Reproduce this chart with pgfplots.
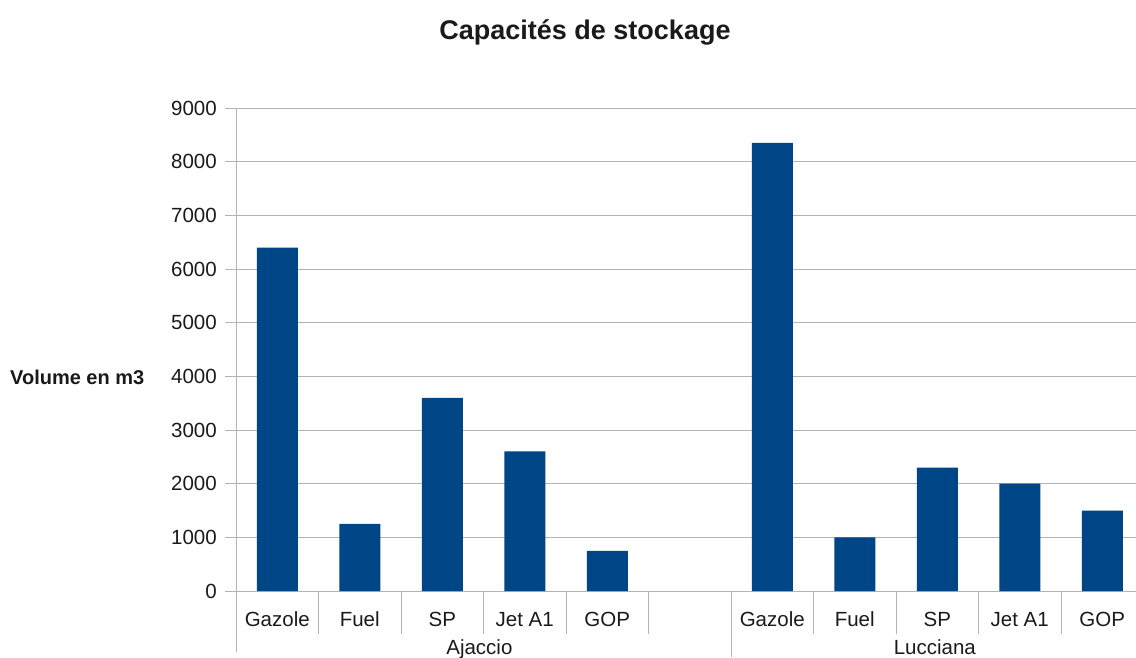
\documentclass[border=0pt]{standalone}
\usepackage{pgfplots}
\pgfplotsset{compat=1.18}
\usepackage{pgfplotstable}
\usepackage{fontspec}
\setmainfont{Liberation Sans}

\definecolor{barblue}{HTML}{004586}
\definecolor{gridgray}{HTML}{B3B3B3}
\definecolor{txt}{HTML}{1A1A1A}

% storage capacity (m3); slots 0-4 Ajaccio, slot 5 empty, slots 6-10 Lucciana
\pgfplotstableread{
x value
0 6400
1 1250
2 3600
3 2600
4 750
6 8350
7 1000
8 2300
9 2000
10 1500
}\stock

\begin{document}
\begin{tikzpicture}
\path[use as bounding box] (0pt,0pt) rectangle (1136pt,657pt);

\node[anchor=base, font=\fontsize{27}{31}\selectfont\bfseries, text=txt] at (585pt,617pt) {Capacités de stockage};
\node[anchor=base west, font=\fontsize{20}{24}\selectfont\bfseries, text=txt, inner sep=0pt] at (10pt,272pt) {Volume en m3};

\begin{axis}[
  at={(236pt,66pt)}, anchor=south west,
  scale only axis, width=900pt, height=483pt,
  xmin=-0.5, xmax=10.409, ymin=0, ymax=9000,
  clip=false,
  axis lines*=left,
  axis line style={gridgray, line width=1pt},
  ymajorgrids, grid style={gridgray, line width=1pt},
  ytick={0,1000,...,9000},
  scaled y ticks=false,
  /pgf/number format/1000 sep={},
  /pgf/number format/assume math mode=true,
  tick align=outside,
  major tick length=11pt,
  ytick style={gridgray, line width=1pt},
  yticklabel style={font=\fontsize{20.5}{24}\selectfont, text=txt, anchor=east, inner sep=0pt, xshift=-8pt},
  xtick={0,1,2,3,4,6,7,8,9,10},
  xticklabels={Gazole,Fuel,SP,Jet A1,GOP,Gazole,Fuel,SP,Jet A1,GOP},
  xtick style={draw=none},
  xticklabel style={font=\fontsize{20.5}{24}\selectfont, text=txt, anchor=base, inner sep=0pt, yshift=-24pt},
]
\addplot[ybar, bar width=41pt, fill=barblue, draw=none] table[x=x, y=value] {\stock};

% category separators below the axis
\pgfplotsinvokeforeach{0.5,1.5,2.5,3.5,4.5,6.5,7.5,8.5,9.5}{
  \draw[gridgray, line width=1pt] (axis cs:#1,0) -- ++(0pt,-43pt);
}
% group separators
\draw[gridgray, line width=1pt] (axis cs:-0.5,0) -- ++(0pt,-61pt);
\draw[gridgray, line width=1pt] (axis cs:5.5,0) -- ++(0pt,-66pt);

% group labels
\node[anchor=base, font=\fontsize{20.5}{24}\selectfont, text=txt, inner sep=0pt, yshift=-63pt] at (axis cs:2.45,0) {Ajaccio};
\node[anchor=base, font=\fontsize{20.5}{24}\selectfont, text=txt, inner sep=0pt, yshift=-63pt] at (axis cs:7.97,0) {Lucciana};
\end{axis}
\end{tikzpicture}
\end{document}
